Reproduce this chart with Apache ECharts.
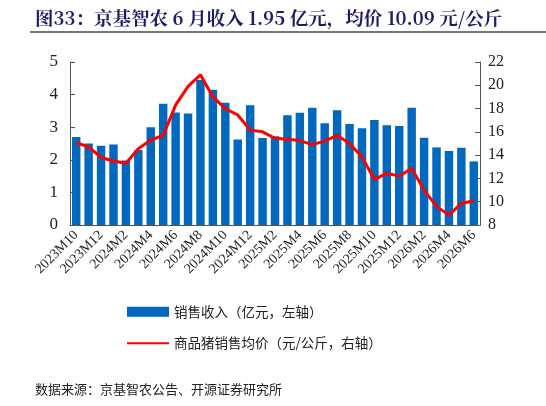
<!DOCTYPE html>
<html><head><meta charset="utf-8">
<script src="https://cdn.jsdelivr.net/npm/echarts@6/dist/echarts.min.js"></script>
<style>html,body{margin:0;padding:0;background:#fff}#c{width:546px;height:406px}</style>
</head><body><div id="c"></div>
<script>
const categories = ['2023M10','2023M11','2023M12','2024M1','2024M2','2024M3','2024M4','2024M5','2024M6','2024M7','2024M8','2024M9','2024M10','2024M11','2024M12','2025M1','2025M2','2025M3','2025M4','2025M5','2025M6','2025M7','2025M8','2025M9','2025M10','2025M11','2025M12','2026M1','2026M2','2026M3','2026M4','2026M5','2026M6'];
const revenue = [2.7,2.5,2.43,2.47,1.98,2.3,3.0,3.72,3.45,3.42,4.45,4.15,3.75,2.62,3.67,2.67,2.72,3.37,3.44,3.6,3.12,3.52,3.1,2.97,3.22,3.06,3.04,3.6,2.68,2.38,2.27,2.37,1.95];
const price = [15.07,14.7,13.8,13.5,13.3,14.55,15.3,15.7,18.3,19.9,20.9,19.0,18.0,17.45,16.15,16.0,15.45,15.36,15.25,14.9,15.2,15.7,15.0,13.85,11.9,12.45,12.2,12.85,11.0,9.6,8.85,9.85,10.09];
const ch = echarts.init(document.getElementById('c'));
const serif = '"Liberation Serif","Times New Roman",serif';
const cjk = '"Noto Sans CJK SC",sans-serif';
ch.setOption({
  animation:false,
  title:[{text:'图33：京基智农 6 月收入 1.95 亿元，均价 10.09 元/公斤',left:30,top:4,textStyle:{fontFamily:'"Noto Serif CJK SC","Noto Sans CJK SC",serif',fontSize:18.5,fontWeight:'bold',color:'#1c1c6b'}},
         {text:'数据来源：京基智农公告、开源证券研究所',left:30,top:378,textStyle:{fontFamily:cjk,fontSize:13,fontWeight:'normal',color:'#222'}}],
  graphic:[{type:'line',shape:{x1:30,y1:32,x2:546,y2:32},style:{stroke:'#777',lineWidth:2}}],
  legend:{orient:'vertical',left:122,top:300,itemGap:18,itemWidth:42,itemHeight:10,textStyle:{fontFamily:cjk,fontSize:13.5,color:'#222'},
    data:[{name:'销售收入（亿元，左轴）',icon:'rect'},{name:'商品猪销售均价（元/公斤，右轴）',icon:'path://M0,4h40v2h-40z'}]},
  grid:{left:70,right:66,top:62,bottom:181},
  xAxis:{type:'category',data:categories,axisTick:{alignWithLabel:false,interval:1,inside:true},axisLine:{lineStyle:{color:'#555'}},
    axisLabel:{interval:1,rotate:45,fontFamily:serif,fontSize:14,color:'#222'}},
  yAxis:[{type:'value',min:0,max:5,interval:1,splitLine:{show:false},axisLine:{show:true,lineStyle:{color:'#555'}},axisTick:{show:true,inside:true},axisLabel:{fontFamily:serif,fontSize:17,color:'#222',margin:12}},
         {type:'value',min:8,max:22,interval:2,splitLine:{show:false},axisLine:{show:true,lineStyle:{color:'#555'}},axisTick:{show:true,inside:true},axisLabel:{fontFamily:serif,fontSize:16,color:'#222'}}],
  series:[{name:'销售收入（亿元，左轴）',type:'bar',data:revenue,barWidth:'68%',itemStyle:{color:'#0068bd'}},
          {name:'商品猪销售均价（元/公斤，右轴）',type:'line',yAxisIndex:1,data:price,symbol:'none',lineStyle:{color:'#ff0000',width:3},itemStyle:{color:'#ff0000'}}]
});
</script></body></html>
